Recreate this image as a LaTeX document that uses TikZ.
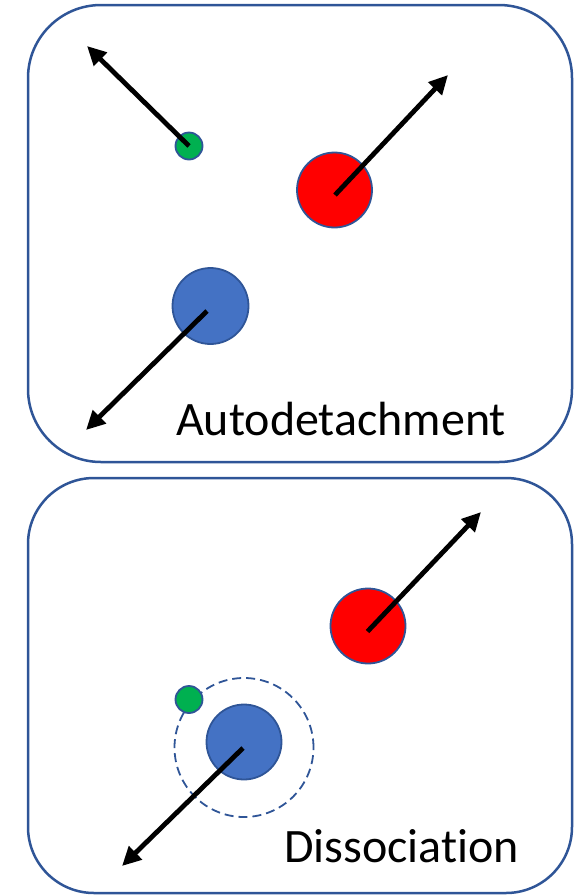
\documentclass[tikz,border=0pt]{standalone}
\usepackage{fontspec}
\setmainfont[RawFeature={-liga;-clig;-dlig;-calt}]{Carlito}
\usetikzlibrary{arrows.meta}
\definecolor{frame}{HTML}{2F5597}
\definecolor{ionred}{HTML}{FF0000}
\definecolor{iongreen}{HTML}{00B050}
\definecolor{ionblue}{HTML}{4472C4}
\tikzset{
  panel/.style={draw=frame, line width=2.5pt, rounded corners=#1},
  particle/.style={circle, draw=frame, line width=1.8pt, inner sep=0pt, minimum size=#1},
  motion/.style={line width=4.8pt, -{Triangle[length=19pt,width=18pt]}},
  shell/.style={circle, draw=frame, line width=1.8pt, dash pattern=on 9pt off 5pt, inner sep=0pt, minimum size=#1},
  caption/.style={anchor=base west, font=\fontsize{48}{52}\selectfont, inner sep=0pt}
}
\begin{document}
\begin{tikzpicture}[x=1pt, y=-1pt]
  \useasboundingbox (0,0) rectangle (585,895);

  % upper panel: autodetachment
  \draw[panel=73pt] (28,5) rectangle (572,462);
  \node[particle=27pt, fill=iongreen] (g1) at (189,146) {};
  \node[particle=75pt, fill=ionred] (r1) at (334.5,190) {};
  \node[particle=76pt, fill=ionblue] (b1) at (210.5,306) {};
  \coordinate (g1t) at (87,46);
  \coordinate (r1t) at (448,75);
  \coordinate (b1t) at (86,430);
  \draw[motion] (g1.center) -- (g1t);
  \draw[motion] (335,195) -- (r1t);
  \draw[motion] (207,311) -- (b1t);
  \node[caption] (lab1) at (176,435) {Autodetachment};

  % lower panel: dissociation
  \draw[panel=66pt] (28,478) rectangle (572,893);
  \node[particle=75pt, fill=ionred] (r2) at (368,626) {};
  \node[shell=139pt] (s2) at (244,747.5) {};
  \node[particle=75pt, fill=ionblue] (b2) at (244,742) {};
  \node[particle=27pt, fill=iongreen] (g2) at (189,699.5) {};
  \coordinate (r2t) at (481,512);
  \coordinate (b2t) at (122,866);
  \draw[motion] (367.5,631.5) -- (r2t);
  \draw[motion] (243,748) -- (b2t);
  \node[caption] (lab2) at (284,862) {Dissociation};
\end{tikzpicture}
\end{document}
